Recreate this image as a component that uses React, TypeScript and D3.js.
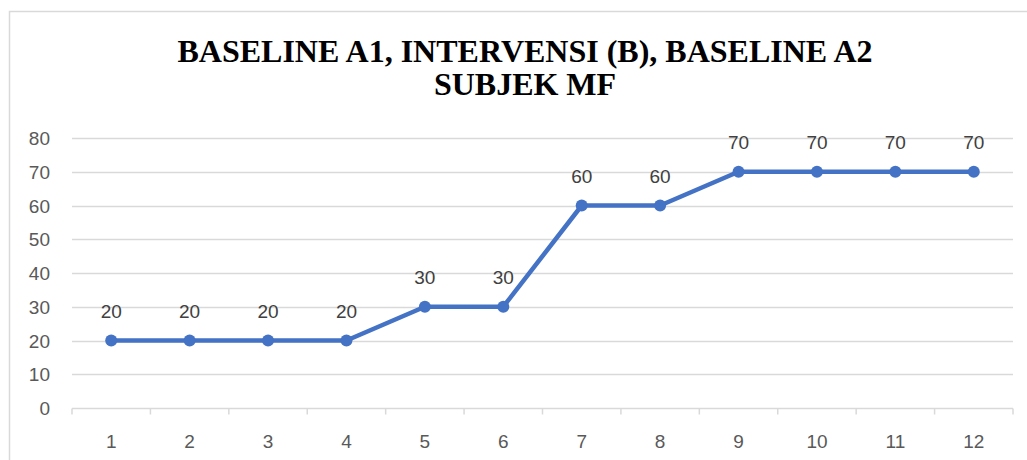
import * as d3 from 'd3';
import React, { useRef, useEffect } from 'react';

const sessions = ['1', '2', '3', '4', '5', '6', '7', '8', '9', '10', '11', '12'];
const scores = [20, 20, 20, 20, 30, 30, 60, 60, 70, 70, 70, 70];
const yTicks = [0, 10, 20, 30, 40, 50, 60, 70, 80];
const titleLines = ['BASELINE A1, INTERVENSI (B), BASELINE A2', 'SUBJEK MF'];

export default function App() {
  const svgRef = useRef<SVGSVGElement>(null);

  useEffect(() => {
    const svg = d3.select(svgRef.current);
    svg.selectAll('*').remove();

    const W = 1027, H = 460;
    const left = 72, right = 1013, top = 138, bottom = 408;
    const labelFont = '"Liberation Sans", Arial, sans-serif';

    // chart frame (cut off on the right and bottom)
    svg.append('rect')
      .attr('x', 9.5).attr('y', 11.5)
      .attr('width', W + 20).attr('height', H + 20)
      .attr('fill', '#fff').attr('stroke', '#d9d9d9').attr('stroke-width', 1.5);

    // title
    svg.append('text')
      .attr('text-anchor', 'middle')
      .attr('font-family', '"Liberation Serif", "Times New Roman", serif')
      .attr('font-weight', 'bold').attr('font-size', 32).attr('fill', '#000')
      .selectAll('tspan').data(titleLines).join('tspan')
      .attr('x', 525).attr('y', (_, i) => 62 + i * 33)
      .text(d => d);

    const x = d3.scaleBand().domain(sessions).range([left, right]);
    const y = d3.scaleLinear().domain([0, 80]).range([bottom, top]);

    // gridlines
    svg.append('g').selectAll('line').data(yTicks.filter(t => t > 0)).join('line')
      .attr('x1', left).attr('x2', right)
      .attr('y1', d => Math.round(y(d)) + 0.5).attr('y2', d => Math.round(y(d)) + 0.5)
      .attr('stroke', '#d9d9d9').attr('stroke-width', 1.5);

    // y labels
    svg.append('g').selectAll('text').data(yTicks).join('text')
      .attr('x', 50).attr('y', d => y(d) + 7)
      .attr('text-anchor', 'end')
      .attr('font-family', labelFont).attr('font-size', 19).attr('fill', '#595959')
      .text(d => d);

    // x axis
    const xAxis = d3.axisBottom(x).tickSize(0).tickPadding(0);
    const gx = svg.append('g').attr('transform', `translate(0,${bottom + 0.5})`).call(xAxis);
    gx.select('.domain').remove();
    gx.selectAll('text').remove();
    gx.append('line').attr('x1', left).attr('x2', right)
      .attr('stroke', '#d9d9d9').attr('stroke-width', 1.5);
    const boundaries = d3.range(sessions.length + 1).map(i => left + i * x.bandwidth());
    gx.selectAll('line.tk').data(boundaries).join('line').attr('class', 'tk')
      .attr('x1', d => d).attr('x2', d => d).attr('y1', 0).attr('y2', 6)
      .attr('stroke', '#d9d9d9').attr('stroke-width', 1.5);
    svg.append('g').selectAll('text').data(sessions).join('text')
      .attr('x', d => x(d)! + x.bandwidth() / 2).attr('y', 448)
      .attr('text-anchor', 'middle')
      .attr('font-family', labelFont).attr('font-size', 19).attr('fill', '#595959')
      .text(d => d);

    const cx = (i: number) => x(sessions[i])! + x.bandwidth() / 2;

    // line
    const line = d3.line<number>().x((_, i) => cx(i)).y(d => y(d));
    svg.append('path').datum(scores)
      .attr('d', line).attr('fill', 'none')
      .attr('stroke', '#4472c4').attr('stroke-width', 4.5).attr('stroke-linejoin', 'round');

    // markers
    svg.append('g').selectAll('circle').data(scores).join('circle')
      .attr('cx', (_, i) => cx(i)).attr('cy', d => y(d)).attr('r', 6)
      .attr('fill', '#4472c4');

    // data labels
    svg.append('g').selectAll('text').data(scores).join('text')
      .attr('x', (_, i) => cx(i)).attr('y', d => y(d) - 23)
      .attr('text-anchor', 'middle')
      .attr('font-family', labelFont).attr('font-size', 19).attr('fill', '#404040')
      .text(d => d);
  }, []);

  return (
    <svg ref={svgRef} width={1027} height={460}
      style={{ position: 'absolute', left: 0, top: 0, background: '#fff' }} />
  );
}
